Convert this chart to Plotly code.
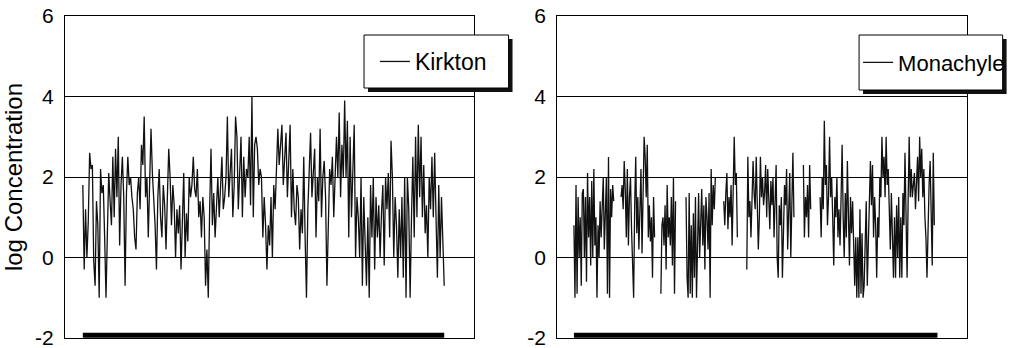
import plotly.graph_objects as go

# ---------------- data ----------------
series_names = ["Kirkton", "Monachyle"]
y_tick_values = [-2, 0, 2, 4, 6]
y_tick_labels = ["-2", "0", "2", "4", "6"]
y_title = "log Concentration"
sampling_bar_level = -1.93

kirkton_log_conc = [
    1.8, -0.3, 1.2, 0.0, 0.9, 2.6, 2.2, 2.3, -0.1, -0.7, 1.4, 0.8, -1.0, 2.2, 1.6, 1.8, 0.5, -1.0, 0.6, 2.1,
    1.4, 0.8, 2.5, 1.0, 2.7, 1.5, 3.0, 0.3, 1.8, 2.5, 1.5, -0.7, 1.6, 2.5, 1.8, 2.0, 1.5, 1.2, 0.5, 0.2,
    1.6, 2.0, 1.2, 2.8, 2.3, 3.5, 1.5, 2.0, 0.5, 1.8, 3.2, 2.1, 1.5, 0.8, -0.3, 1.5, 2.2, 1.0, 0.5, 1.8,
    1.3, 0.2, 1.5, 2.7, 2.0, 0.8, 1.8, 1.3, 0.0, 1.2, 0.6, 1.3, -0.3, 0.8, 2.1, 0.0, 1.1, 0.4, 2.0, 1.5,
    1.8, 2.5, 1.7, 1.5, 2.2, 1.0, 1.4, 0.5, 1.5, 1.0, -0.7, 0.2, -1.0, 1.2, 2.7, 0.8, 1.6, 0.5, 1.2, 2.0,
    1.0, 1.6, 2.5, 1.2, 1.5, 2.0, 3.5, 1.5, 2.0, 2.7, 1.0, 1.8, 3.5, 3.0, 1.2, 2.2, 3.0, 1.0, 2.5, 1.5,
    2.2, 2.0, 3.0, 1.3, 4.0, 1.0, 2.8, 3.0, 2.7, 1.8, 2.2, 2.0, 0.5, 1.5, 0.8, -0.3, 0.8, 0.3, 1.5, 0.0,
    1.8, 1.2, 2.5, 3.2, 2.3, 2.8, 3.3, 1.8, 2.5, 3.1, 1.5, 2.4, 3.3, 1.0, 2.2, 1.2, 0.8, 1.8, 1.5, 0.2,
    1.2, 0.6, 2.5, 0.5, -1.0, 1.2, 2.0, 3.1, 1.5, 2.2, 2.7, 0.5, 2.0, 1.4, 3.2, 1.0, 2.0, 2.4, 1.5, -0.7,
    1.2, 2.2, 1.8, 2.5, 1.0, 2.2, 3.0, 2.0, 3.6, 1.5, 2.8, 2.0, 3.9, 2.0, 3.4, 0.5, 3.0, 1.0, 2.2, 3.3,
    0.0, 1.5, 1.0, 0.0, 2.0, -0.7, 1.5, 0.3, -0.7, 1.0, -1.0, 1.8, 0.5, 2.0, -0.3, 1.5, 0.5, 1.3, 0.0, 1.1,
    1.8, -0.2, 2.0, 1.2, 2.1, 0.5, 2.9, 2.0, 0.0, 1.5, 0.8, -0.5, 1.2, 0.0, 1.5, -0.5, 2.0, -1.0, 2.0, 1.2,
    -1.0, 1.0, 2.5, 0.5, 3.0, 1.0, 3.3, 1.5, 3.0, 1.0, 2.3, 0.6, 1.3, 0.0, 2.0, 1.2, 2.5, 1.0, 2.6, 1.0,
    -0.5, 1.8, 0.0, 1.5, 0.6, -0.7,
]

monachyle_log_conc = [
    # segment 1
    0.8, -1.0, 1.8, -0.9, 1.5, 0.0, 1.0, -0.7, 1.6, 1.7, 0.0, 1.5, -0.6, 2.1, 0.5, 1.5, -0.2, 1.9, 0.0,
    2.2, 0.3, 1.0, -1.0, 0.8, 0.0, 1.4, 0.5, 1.5, 2.0, 0.2, 1.0, 2.0, -0.9, 2.5, -1.0, 1.7, 1.0, 1.8, 1.4,
    None, None, None, None, None, None,
    # segment 2
    1.5, 1.8, 1.2, 2.4, 1.7, 0.5, 2.2, 0.3, 1.5, 2.0, 0.7, -0.5, -1.0, 1.3, 2.5, 0.6, 1.5, 0.2, 1.2, 2.2,
    0.1, 1.8, 3.0, 2.5, 1.5, 2.8, 0.5, 1.3, 0.4, 1.0, -0.5, 1.5, 0.5,
    None, None, None, None, None,
    # segment 3
    -0.9, 0.8, 1.0, 0.3, 1.3, -0.3, 1.8, 0.5, 1.0, 0.3, 1.5, -0.2, 2.0, -0.9, 1.4,
    None, None, None, None, None, None, None, None, None,
    # segment 4
    1.5, -0.5, -1.0, 1.6, -0.9, 0.8, -1.0, 1.1, -0.5, 1.5, -1.0, 0.5, 1.6, 0.0, 1.2, 1.7, 0.3, 1.3, -0.3,
    1.5, 1.0, 0.2, 1.6, -1.0, 2.2, 0.8, 1.8, 1.2, 2.0,
    None, None, None, None, None, None, None,
    # segment 5
    1.4, 0.8, 1.6, 2.1, 0.7, 1.5, 1.0, 1.8, 0.3, 2.2, 3.0, 1.8, 2.1, 0.5,
    None, None, None, None, None, None, None, None,
    # segment 6
    -0.3, 2.5, 1.0, 1.4, 0.5, 1.2, 2.4, 1.6, 1.2, 2.5, 1.5, 0.2, 1.0, 2.5, 1.5, 2.0, 1.3, 1.6, 2.3, 1.0,
    2.2, 1.5, 0.7, 1.9, 1.3, 2.0, 0.5, 1.4, 2.3, 0.0, -0.5, 1.3, 0.8, 1.5, -0.5, 0.6, 1.8, 1.3, 2.2, 0.2,
    1.5, 2.1, 0.0, 1.0, 2.6, 1.0,
    None, None, None, None, None, None, None, None,
    # segment 7
    2.3, 0.5, 1.5, 1.0, 1.8, 0.5, 2.3, 1.2,
    None, None, None, None, None, None, None, None,
    # segment 8
    1.5, 0.5, 2.0, 1.2, 3.4, 1.8, 2.3, 0.8, 1.5, 3.0, 1.5, 2.0, 1.0, -0.2, 1.5, 1.0, 2.0, 0.5, 1.2, 0.3,
    1.5, 2.8, 1.0, 0.0, 1.6, 0.5, 2.4, 1.2, -0.2, 1.5, 0.6, 1.4, 0.2, -0.7, 0.5, -1.0, 0.5, -1.0, 1.2, -0.9,
    0.6, -1.0, -0.7, 0.6, 1.4, -0.7, 0.5, 1.0, 2.4, 1.3, 2.3, 0.5, 1.5, 0.8, -0.5, 1.0, 0.5, 2.0, 1.5, 3.0,
    2.0, 2.5, 1.5, 3.0, 1.8, 2.2, 1.0, 0.2, 1.6, 0.5, -0.5, 1.0, -0.5, 1.3, 0.0, 1.5, -0.5, 1.0, -0.5, 1.6,
    0.8, 2.6, 1.2, -0.5, 1.4, 3.0, 1.5, 2.2, 1.5, 1.8, 2.1, 1.2, 1.7, 2.5, 1.4, 3.0, 2.0, 2.7, 1.5, 2.2,
    1.0, 0.5, -0.5, 1.0, 1.8, 2.4, 1.0, -0.2, 2.6, 0.8,
]

# ---------------- layout geometry (page pixels; body margin removed below) ----------------
W, H = 1020, 348
ML, MR, MT, MB = 65, 44, 16, 10
PW, PH = W - ML - MR, H - MT - MB
FONT = "Liberation Sans, Arial, sans-serif"


def px_x(px):
    return (px - ML) / PW


def px_y(py):
    return (MT + PH - py) / PH


def x_range(n, frac_start, frac_end):
    span = (n - 1) / (frac_end - frac_start)
    lo = -frac_start * span
    return [lo, lo + span]


kx = list(range(len(kirkton_log_conc)))
mx = list(range(len(monachyle_log_conc)))

fig = go.Figure()
fig.add_trace(go.Scatter(x=kx, y=kirkton_log_conc, mode="lines", name=series_names[0],
                         line=dict(color="#111111", width=1.3), xaxis="x", yaxis="y",
                         legend="legend", connectgaps=False))
fig.add_trace(go.Scatter(x=[kx[0], kx[-1]], y=[sampling_bar_level] * 2, mode="lines",
                         line=dict(color="black", width=5), showlegend=False, xaxis="x", yaxis="y"))
fig.add_trace(go.Scatter(x=mx, y=monachyle_log_conc, mode="lines", name=series_names[1],
                         line=dict(color="#111111", width=1.3), xaxis="x2", yaxis="y2",
                         legend="legend2", connectgaps=False))
fig.add_trace(go.Scatter(x=[mx[0], mx[-1] + 3], y=[sampling_bar_level] * 2, mode="lines",
                         line=dict(color="black", width=5), showlegend=False, xaxis="x2", yaxis="y2"))

axis_common = dict(showline=True, mirror=True, linecolor="black", linewidth=1,
                   zeroline=False, automargin=False)
yaxis_common = dict(axis_common, range=[-2, 6], tickvals=y_tick_values, ticktext=y_tick_labels,
                    showgrid=True, gridcolor="black", gridwidth=1, ticks="",
                    tickfont=dict(family=FONT, size=21, color="black"), ticklabelstandoff=6,
                    ticklabeloverflow="allow")

fig.update_layout(
    width=W, height=H,
    margin=dict(l=ML, r=MR, t=MT, b=MB),
    paper_bgcolor="white", plot_bgcolor="white",
    font=dict(family=FONT, color="black"),
    xaxis=dict(axis_common, domain=[0, px_x(478)], showticklabels=False, showgrid=False, ticks="",
               range=x_range(len(kx), (83 - 65) / 413, (448 - 65) / 413)),
    xaxis2=dict(axis_common, domain=[px_x(562), 1], showticklabels=False, showgrid=False, ticks="",
                range=x_range(len(mx), (579 - 562) / 414, (943 - 562) / 414), anchor="y2"),
    yaxis=dict(yaxis_common, title=dict(text=y_title, font=dict(family=FONT, size=24), standoff=24)),
    yaxis2=dict(yaxis_common, anchor="x2"),
    legend=dict(x=px_x(378), y=px_y(61.5), xanchor="left", yanchor="middle",
                bgcolor="rgba(0,0,0,0)", borderwidth=0, font=dict(family=FONT, size=23)),
    legend2=dict(x=px_x(866), y=px_y(62.5), xanchor="left", yanchor="middle",
                 bgcolor="rgba(0,0,0,0)", borderwidth=0, font=dict(family=FONT, size=22)),
    showlegend=True,
)

# legend frames with drop shadow
for (bx0, by0, bx1, by1) in [(367, 35, 513, 88), (867, 35, 1012, 90)]:
    fig.add_shape(type="rect", xref="paper", yref="paper",
                  x0=px_x(bx0 + 4), x1=px_x(bx1 + 4), y0=px_y(by1 + 4), y1=px_y(by0 + 4),
                  fillcolor="#111111", line=dict(width=0), layer="above")
    fig.add_shape(type="rect", xref="paper", yref="paper",
                  x0=px_x(bx0), x1=px_x(bx1), y0=px_y(by1), y1=px_y(by0),
                  fillcolor="white", line=dict(color="black", width=1), layer="above")

fig.write_html("out.html", config={"displayModeBar": False},
               post_script="document.body.style.margin='0px';document.body.style.overflow='hidden';")
